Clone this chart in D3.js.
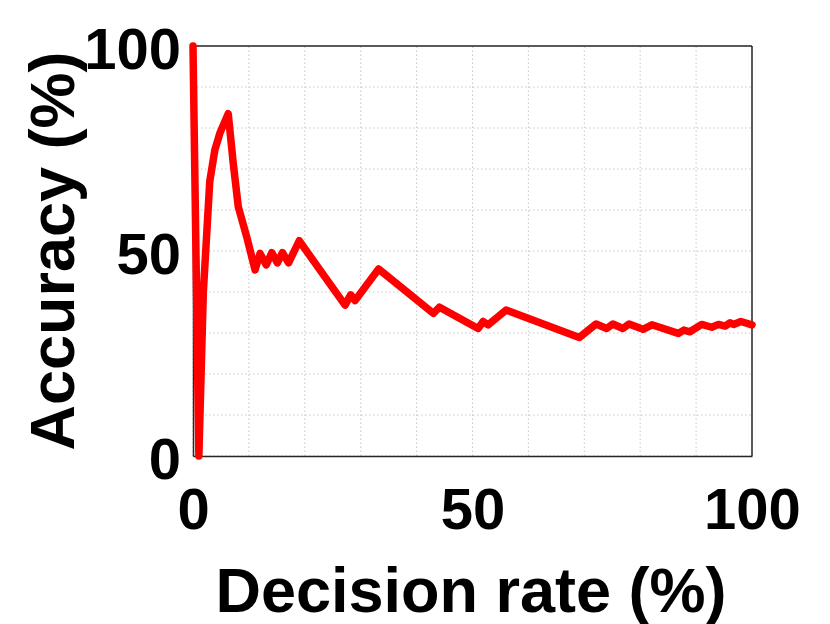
<!DOCTYPE html>
<html>
<head>
<meta charset="utf-8">
<script src="https://cdn.jsdelivr.net/npm/d3@7"></script>
<style>
  body { margin: 0; background: #fff; }
  text { font-family: "Liberation Sans", Arial, Helvetica, sans-serif; font-weight: bold; fill: #000; }
</style>
</head>
<body>
<svg id="chart" width="830" height="624"></svg>
<script>
// Data
const decisionRate = [0, 1.05, 1.85, 3.0, 3.9, 4.8, 6.3, 7.2, 8.1, 9.6, 11.1, 12.0, 13.1, 14.1, 15.1, 16.0, 17.1, 19.0, 22.7, 27.2, 28.2, 29.0, 33.2, 43.0, 44.1, 51.0, 51.9, 52.8, 56.0, 69.1, 72.1, 74.0, 75.1, 76.9, 78.0, 80.5, 82.1, 86.8, 87.8, 88.9, 91.0, 92.8, 94.0, 95.2, 96.1, 96.7, 98.0, 100];
const accuracy     = [100, 0, 40, 67, 74.6, 78.7, 83.5, 71.4, 60.8, 53.5, 45.4, 49.4, 46.6, 49.6, 47.1, 49.6, 47.1, 52.5, 45.4, 36.8, 39.3, 37.9, 45.6, 34.8, 36.3, 31.1, 32.8, 32.0, 35.6, 28.9, 32.2, 31.1, 32.2, 31.1, 32.2, 30.9, 32.0, 29.9, 30.7, 30.3, 32.1, 31.4, 32.1, 31.7, 32.5, 32.1, 32.8, 32.0];
const xTicks = [0, 50, 100];
const yTicks = [0, 50, 100];
const gridTicks = [0, 10, 20, 30, 40, 50, 60, 70, 80, 90, 100];
const xLabel = "Decision rate (%)";
const yLabel = "Accuracy (%)";

const svg = d3.select("#chart");
const margin = { left: 193, top: 46, right: 78, bottom: 168 };
const W = 830, H = 624;
const x = d3.scaleLinear().domain([0, 100]).range([margin.left, W - margin.right]);
const y = d3.scaleLinear().domain([0, 100]).range([H - margin.bottom, margin.top]);

// Grid
const grid = svg.append("g");
grid.selectAll("line.vg").data(gridTicks).enter().append("line")
  .attr("x1", d => x(d)).attr("x2", d => x(d))
  .attr("y1", y(0)).attr("y2", y(100))
  .attr("stroke", "#c8c8c8").attr("stroke-width", 1).attr("stroke-dasharray", "1.5,2.5");
grid.selectAll("line.hg").data(gridTicks).enter().append("line")
  .attr("y1", d => y(d)).attr("y2", d => y(d))
  .attr("x1", x(0)).attr("x2", x(100))
  .attr("stroke", "#c8c8c8").attr("stroke-width", 1).attr("stroke-dasharray", "1.5,2.5");

// Axes (box)
const xAxis = d3.axisBottom(x).tickValues(xTicks).tickSize(0).tickPadding(32);
const yAxis = d3.axisLeft(y).tickValues(yTicks).tickSize(0).tickPadding(12);
const gx = svg.append("g").attr("transform", `translate(0,${y(0)})`).call(xAxis);
const gy = svg.append("g").attr("transform", `translate(${x(0)},0)`).call(yAxis);
[gx, gy].forEach(g => {
  g.select(".domain").attr("stroke", "#262626").attr("stroke-width", 1.5);
  g.selectAll("text").style("font-size", "58px").style("font-family", "Liberation Sans, Arial, sans-serif").style("font-weight", "bold").attr("fill", "#000");
});
gy.selectAll("text").attr("dy", "0.38em");
gx.selectAll("text").attr("dy", "0.71em");

svg.append("line").attr("x1", x(0)).attr("x2", x(100)).attr("y1", y(100)).attr("y2", y(100))
  .attr("stroke", "#262626").attr("stroke-width", 1.5);
svg.append("line").attr("x1", x(100)).attr("x2", x(100)).attr("y1", y(0)).attr("y2", y(100))
  .attr("stroke", "#262626").attr("stroke-width", 1.5);

// Line
const pts = decisionRate.map((d, i) => [d, accuracy[i]]);
svg.append("path").datum(pts)
  .attr("fill", "none").attr("stroke", "#ff0000").attr("stroke-width", 7.5)
  .attr("stroke-linejoin", "round").attr("stroke-linecap", "round")
  .attr("d", d3.line().x(d => x(d[0])).y(d => y(d[1])));

// Labels
svg.append("text").attr("x", 471).attr("y", 612).attr("text-anchor", "middle")
  .style("font-size", "63px").text(xLabel);
svg.append("text").attr("transform", `translate(74,${(y(0) + y(100)) / 2}) rotate(-90)`)
  .attr("text-anchor", "middle").style("font-size", "63px").text(yLabel);
</script>
</body>
</html>
